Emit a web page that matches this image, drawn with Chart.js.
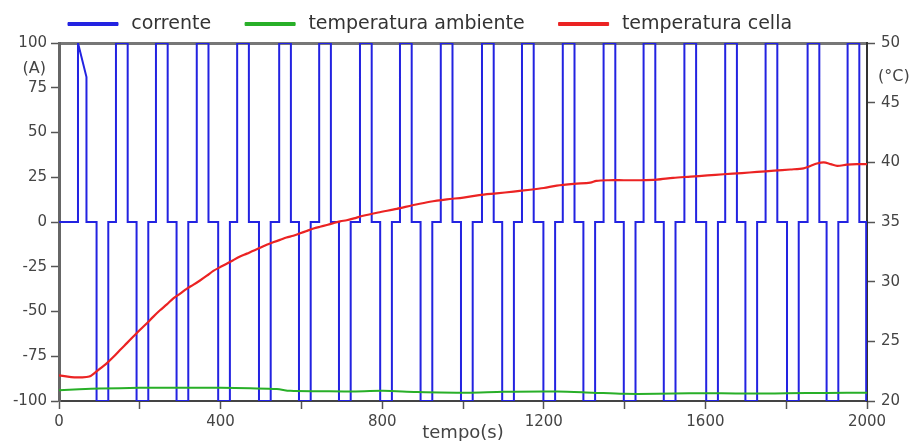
<!DOCTYPE html>
<html>
<head>
<meta charset="utf-8">
<script src="https://cdn.jsdelivr.net/npm/chart.js@4.4.1/dist/chart.umd.min.js"></script>
<style>
html,body{margin:0;padding:0;background:#fff;}
#wrap{width:917px;height:441px;position:relative;}
</style>
</head>
<body>
<div id="wrap"><canvas id="c" width="917" height="441"></canvas></div>
<script>
// ---------- data ----------
const seriesLabels = ['corrente', 'temperatura ambiente', 'temperatura cella'];
const xTickLabels = [0, 400, 800, 1200, 1600, 2000];

// current (A): first, irregular pulse [time, value]
const firstPulseT = [0, 47, 47, 68, 68];
const firstPulseA = [0, 0, 100, 81, 0];
// regular +100 A pulses [start, end] (s)
const posPulses = [[141,170],[240,269],[341,370],[441,470],[545,574],[644,673],[745,774],[844,873],[945,974],[1047,1076],[1146,1175],[1247,1276],[1348,1377],[1447,1476],[1548,1577],[1649,1678],[1749,1778],[1853,1882],[1952,1981]];
// -100 A pulses [start, end] (s)
const negPulses = [[93,122],[192,221],[291,320],[394,423],[495,524],[594,623],[693,722],[795,824],[895,924],[995,1024],[1097,1126],[1199,1228],[1298,1327],[1398,1427],[1497,1526],[1602,1631],[1699,1728],[1802,1831],[1900,1929],[1998,2000]];

// cell temperature (°C)
const cellaT = [0,30,55,75,90,105,118,135,151,168,184,200,217,233,250,267,283,300,316,333,349,366,382,398,415,431,448,465,481,498,514,530,547,563,580,597,613,630,646,663,679,696,712,730,750,790,836,875,918,960,1001,1040,1083,1125,1166,1200,1232,1275,1315,1330,1360,1398,1440,1480,1520,1563,1605,1645,1690,1728,1770,1810,1843,1860,1876,1893,1910,1926,1950,1975,2000];
const cellaV = [22.15,22.0,21.98,22.05,22.4,22.8,23.15,23.7,24.27,24.85,25.4,25.95,26.5,27.05,27.6,28.1,28.6,29.0,29.4,29.75,30.1,30.5,30.9,31.2,31.5,31.8,32.1,32.35,32.6,32.85,33.1,33.3,33.5,33.7,33.85,34.05,34.25,34.45,34.6,34.75,34.9,35.05,35.15,35.3,35.5,35.8,36.1,36.4,36.7,36.9,37.05,37.25,37.4,37.55,37.7,37.85,38.05,38.2,38.3,38.45,38.5,38.5,38.5,38.55,38.7,38.8,38.9,39.0,39.1,39.2,39.3,39.4,39.5,39.7,39.9,40.0,39.85,39.7,39.8,39.85,39.85];

// ambient temperature (°C)
const ambT = [0,50,101,200,307,400,473,539,572,650,720,802,885,1009,1100,1233,1320,1398,1480,1560,1640,1720,1800,1900,2000];
const ambV = [20.9,20.98,21.04,21.1,21.12,21.1,21.06,21.0,20.85,20.82,20.8,20.85,20.76,20.7,20.78,20.8,20.7,20.6,20.6,20.65,20.65,20.62,20.65,20.68,20.7];

// ---------- build datasets ----------
const corrente = firstPulseT.map((t, i) => ({x: t, y: firstPulseA[i]}));
const pulses = posPulses.map(p => [p[0], p[1], 100])
  .concat(negPulses.map(p => [p[0], p[1], -100]))
  .sort((a, b) => a[0] - b[0]);
pulses.forEach(([s, e, v]) => {
  corrente.push({x: s, y: 0}, {x: s, y: v}, {x: e, y: v}, {x: e, y: 0});
});
const cella = cellaT.map((t, i) => ({x: t, y: cellaV[i]}));
const amb = ambT.map((t, i) => ({x: t, y: ambV[i]}));

const FONT = 'DejaVu Sans';
const LEG_PAD = 34;
const LEG_FONT = 19;

const layoutPlugin = {
  id: 'layoutFix',
  beforeLayout(chart) {
    const lg = chart.legend;
    if (lg && !lg._patched) {
      const orig = lg.fit.bind(lg);
      lg.fit = function () { orig(); this.height = 43; };
      lg._patched = true;
    }
  },
  afterLayout(chart) {
    const lg = chart.legend;
    if (lg) {
      lg.left = 68 - LEG_PAD;
      lg.top = 24 - LEG_FONT / 2 - LEG_PAD;
    }
  }
};

const unitPlugin = {
  id: 'units',
  afterDraw(chart) {
    const ctx = chart.ctx;
    const y = chart.scales.y, y2 = chart.scales.y2;
    ctx.save();
    ctx.font = '16px "' + FONT + '"';
    ctx.fillStyle = '#444';
    ctx.textBaseline = 'middle';
    ctx.textAlign = 'right';
    ctx.fillText('(A)', chart.chartArea.left - 13, y.getPixelForValue(85.5));
    ctx.textAlign = 'left';
    ctx.fillText('(°C)', chart.chartArea.right + 11, y2.getPixelForValue(47.2));
    ctx.restore();
  }
};

const colors = ['rgb(35,35,225)', 'rgb(40,175,40)', 'rgb(235,35,35)'];

new Chart(document.getElementById('c'), {
  type: 'line',
  data: {
    datasets: [
      {label: seriesLabels[0], data: corrente, yAxisID: 'y', borderColor: colors[0], backgroundColor: colors[0], borderWidth: 2, pointRadius: 0, tension: 0, order: 3},
      {label: seriesLabels[1], data: amb, yAxisID: 'y2', borderColor: colors[1], backgroundColor: colors[1], borderWidth: 2, pointRadius: 0, tension: 0.3, order: 2},
      {label: seriesLabels[2], data: cella, yAxisID: 'y2', borderColor: colors[2], backgroundColor: colors[2], borderWidth: 2.2, pointRadius: 0, tension: 0.3, order: 1}
    ]
  },
  options: {
    responsive: false,
    animation: false,
    events: [],
    layout: {padding: 0},
    scales: {
      x: {
        type: 'linear', position: 'bottom', min: 0, max: 2000,
        ticks: {
          stepSize: 200, autoSkip: false, maxRotation: 0, padding: 4,
          callback: v => (xTickLabels.includes(v) ? String(v) : ''),
          font: {family: FONT, size: 15}, color: '#444'
        },
        grid: {drawOnChartArea: false, drawTicks: true, tickLength: 8, tickColor: '#555', tickWidth: 1.5},
        border: {color: '#444', width: 2},
        title: {display: true, text: 'tempo(s)', font: {family: FONT, size: 18}, color: '#444', padding: {top: 0, bottom: -3}},
        afterFit(s) { s.height = 40; }
      },
      xTop: {
        type: 'linear', position: 'top', min: 0, max: 2000,
        ticks: {display: false},
        grid: {drawOnChartArea: false, drawTicks: false},
        border: {color: '#777', width: 3},
        afterFit(s) { s.height = 0; }
      },
      y: {
        position: 'left', min: -100, max: 100,
        ticks: {stepSize: 25, padding: 4, font: {family: FONT, size: 15}, color: '#444'},
        grid: {drawOnChartArea: false, tickLength: 8, tickColor: '#555', tickWidth: 1.5},
        border: {color: '#666', width: 3},
        afterFit(s) { s.width = 59; }
      },
      y2: {
        position: 'right', min: 20, max: 50,
        ticks: {stepSize: 5, padding: 6, font: {family: FONT, size: 15}, color: '#444'},
        grid: {drawOnChartArea: false, tickLength: 8, tickColor: '#555', tickWidth: 1.5},
        border: {color: '#333', width: 2},
        afterFit(s) { s.width = 50; }
      }
    },
    plugins: {
      tooltip: {enabled: false},
      legend: {
        display: true, position: 'top', align: 'start',
        labels: {
          boxWidth: 50, boxHeight: 3, padding: LEG_PAD,
          font: {family: FONT, size: LEG_FONT}, color: '#333',
          generateLabels(chart) {
            return chart.data.datasets.map((ds, i) => ({
              text: '\u2009' + ds.label,
              fillStyle: ds.borderColor, strokeStyle: ds.borderColor,
              lineWidth: 1, hidden: false, datasetIndex: i, fontColor: '#333'
            }));
          }
        }
      }
    }
  },
  plugins: [layoutPlugin, unitPlugin]
});
</script>
</body>
</html>
